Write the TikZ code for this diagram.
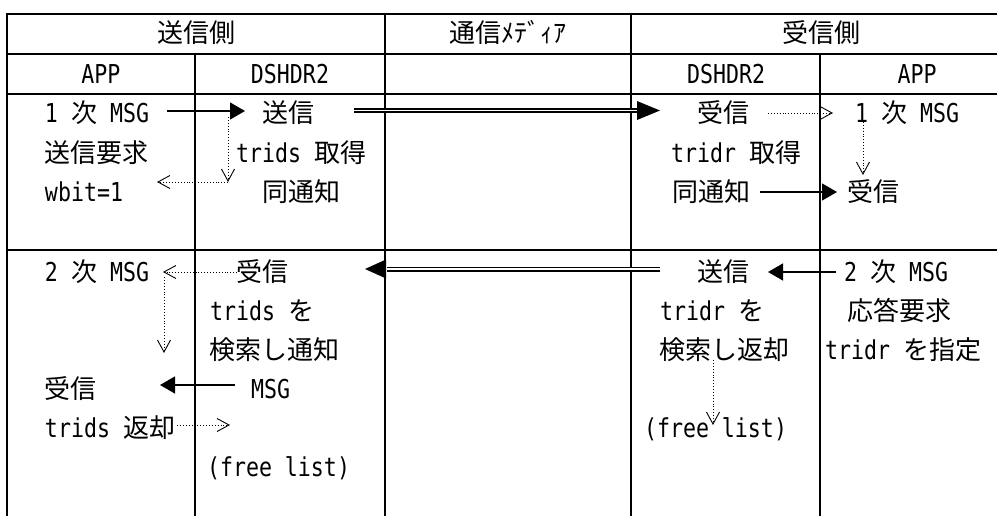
\documentclass[tikz,border=0pt]{standalone}
\usepackage{fontspec}
\setmainfont{DejaVu Sans Mono}[FakeStretch=0.8306]
\newfontfamily\cjk{Noto Sans CJK JP}
\usetikzlibrary{arrows.meta}
\newcommand{\hs}{\hspace*{13pt}}
\begin{document}
\begin{tikzpicture}[x=1pt,y=-1pt,
  every node/.style={font=\fontsize{26}{30}\selectfont, inner sep=0pt, outer sep=0pt},
  txt/.style={anchor=base west},
  hdr/.style={anchor=base},
  gridline/.style={line width=2.2pt},
  solidarr/.style={line width=1.3pt, -{Triangle[length=15pt,width=17pt]}},
  dotarr/.style={line width=0.9pt, dotted, -{Straight Barb[length=12pt,width=13pt,line width=0.9pt]}},
  dbl/.style={line width=1.6pt, double, double distance=1.8pt},
  dblhead/.style={fill=black}
]
\useasboundingbox (0,0) rectangle (997,516);
% grid
\draw[gridline] (997,14) -- (7,14) -- (7,516);
\draw[gridline] (7,54) -- (997,54);
\draw[gridline] (7,94) -- (997,94);
\draw[gridline] (7,250) -- (997,250);
\draw[gridline] (195,54) -- (195,516);
\draw[gridline] (385,14) -- (385,516);
\draw[gridline] (631,14) -- (631,516);
\draw[gridline] (820,54) -- (820,516);
% headers
\node[hdr] (h1) at (196,43) {\cjk 送信側};
\node[hdr] (h2) at (508,43) {\cjk 通信ﾒﾃﾞｨｱ};
\node[hdr] (h3) at (821,43) {\cjk 受信側};
\node[hdr] (c1) at (101,83.5) {APP};
\node[hdr] (c2) at (290,83.5) {DSHDR2};
\node[hdr] (c4) at (726,83.5) {DSHDR2};
\node[hdr] (c5) at (917,83.5) {APP};
% row 3
\node[txt] (l1) at (45,122.5) {1\hs{\cjk 次}\hs MSG};
\node[txt] (l2) at (45,162.5) {\cjk 送信要求};
\node[txt] (l3) at (45,201.5) {wbit=1};
\node[txt] (m1) at (262,122.5) {\cjk 送信};
\node[txt] (m2) at (236,162.5) {trids\hs{\cjk 取得}};
\node[txt] (m3) at (262,201.5) {\cjk 同通知};
\node[txt] (r1) at (697,122.5) {\cjk 受信};
\node[txt] (r2) at (671,162.5) {tridr\hs{\cjk 取得}};
\node[txt] (r3) at (672,201.5) {\cjk 同通知};
\node[txt] (p1) at (855,122.5) {1\hs{\cjk 次}\hs MSG};
\node[txt] (p3) at (847,201.5) {\cjk 受信};
% row 4
\node[txt] (L1) at (45,281.5) {2\hs{\cjk 次}\hs MSG};
\node[txt] (L4) at (45,398.5) {\cjk 受信};
\node[txt] (L5) at (45,437.5) {trids\hs{\cjk 返却}};
\node[txt] (M1) at (236,281.5) {\cjk 受信};
\node[txt] (M2) at (210,320.5) {trids\hs{\cjk を}};
\node[txt] (M3) at (209,359.5) {\cjk 検索し通知};
\node[txt] (M4) at (251,398.5) {MSG};
\node[txt] (M6) at (207,476.5) {(free\hs list)};
\node[txt] (R1) at (697,281.5) {\cjk 送信};
\node[txt] (R2) at (660,320.5) {tridr\hs{\cjk を}};
\node[txt] (R3) at (659,359.5) {\cjk 検索し返却};
\node[txt] (R5) at (644,437.5) {(free\hs list)};
\node[txt] (P1) at (844,281.5) {2\hs{\cjk 次}\hs MSG};
\node[txt] (P2) at (847,320.5) {\cjk 応答要求};
\node[txt] (P3) at (825,359.5) {tridr\hs{\cjk を指定}};
% connector end points
\coordinate (a1s) at (167,111);  \coordinate (a1e) at (245,111);
\coordinate (b1s) at (228,117);  \coordinate (b1e) at (228,182);
\coordinate (b2e) at (157,182);
\coordinate (d1s) at (354,110.5); \coordinate (d1b) at (638,110.5); \coordinate (d1e) at (660,110.5);
\coordinate (e1s) at (768,113);  \coordinate (e1e) at (833,113);
\coordinate (e2s) at (863,122);  \coordinate (e2e) at (863,175);
\coordinate (f1s) at (760,192);  \coordinate (f1e) at (837,192);
\coordinate (d2s) at (660,269);  \coordinate (d2b) at (387,269); \coordinate (d2e) at (365,269);
\coordinate (g1s) at (836,272);  \coordinate (g1e) at (768,272);
\coordinate (k1s) at (237,272);  \coordinate (k1e) at (163,272);
\coordinate (k2s) at (164,277);  \coordinate (k2e) at (164,353);
\coordinate (n1s) at (235,385);  \coordinate (n1e) at (160,385);
\coordinate (q1s) at (177,425);  \coordinate (q1e) at (230,425);
\coordinate (u1s) at (713,360);  \coordinate (u1e) at (713,425);
% connectors
\draw[solidarr] (a1s) -- (a1e);
\draw[dotarr] (b1s) -- (b1e);
\draw[dotarr] (b1e) -- (b2e);
\draw[dbl] (d1s) -- (d1b);
\fill[dblhead] ([xshift=-23pt,yshift=9.5pt]d1e) -- (d1e) -- ([xshift=-23pt,yshift=-9.5pt]d1e) -- cycle;
\draw[dotarr] (e1s) -- (e1e);
\draw[dotarr] (e2s) -- (e2e);
\draw[solidarr] (f1s) -- (f1e);
\draw[dbl] (d2s) -- (d2b);
\fill[dblhead] ([xshift=21pt,yshift=9.5pt]d2e) -- (d2e) -- ([xshift=21pt,yshift=-9.5pt]d2e) -- cycle;
\draw[solidarr] (g1s) -- (g1e);
\draw[dotarr] (k1s) -- (k1e);
\draw[dotarr] (k2s) -- (k2e);
\draw[solidarr] (n1s) -- (n1e);
\draw[dotarr] (q1s) -- (q1e);
\draw[dotarr] (u1s) -- (u1e);
\end{tikzpicture}
\end{document}
